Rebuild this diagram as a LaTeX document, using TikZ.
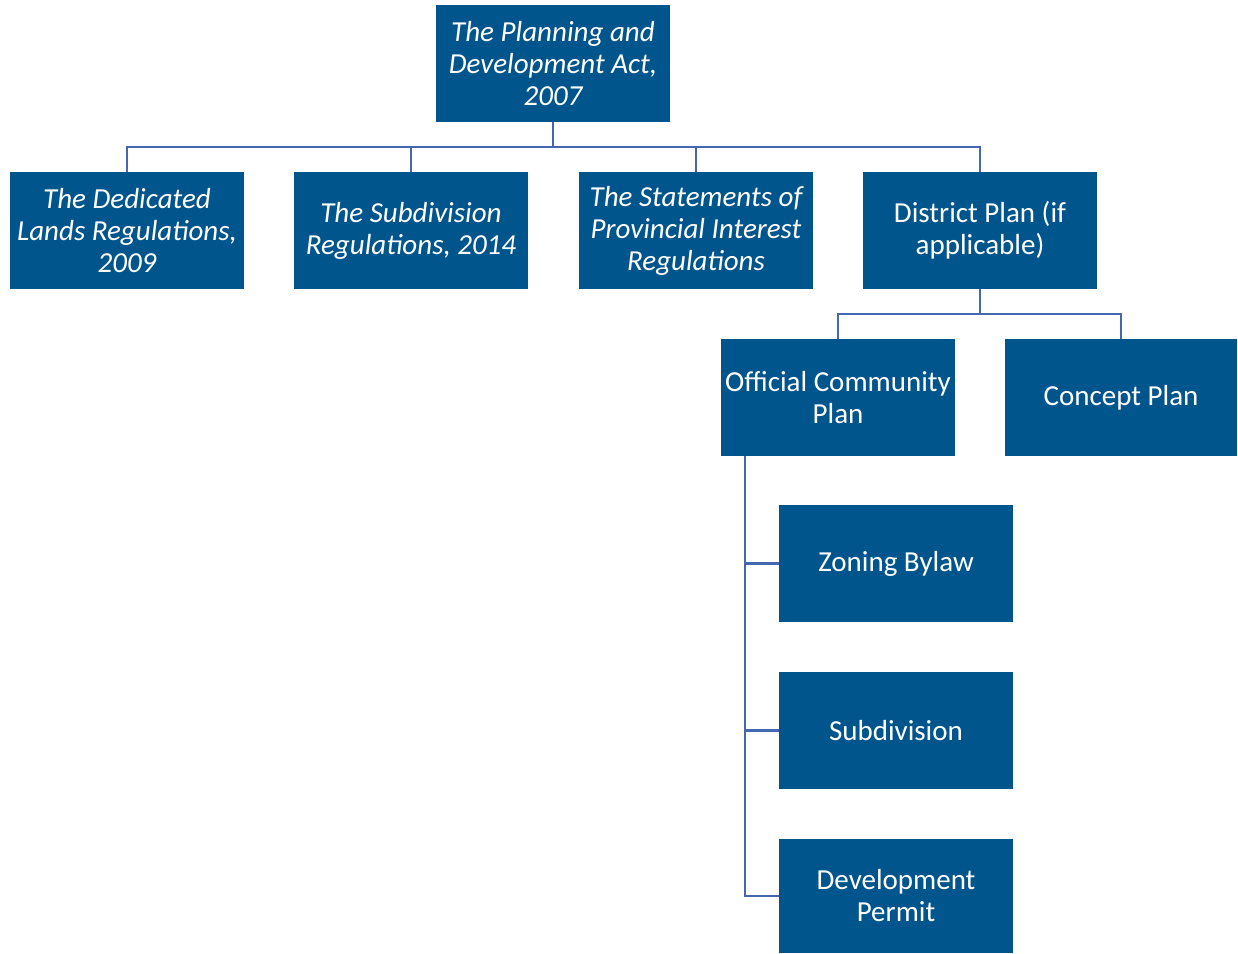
\documentclass[tikz,border=0pt]{standalone}
\usepackage{fontspec}
\setmainfont{Carlito}
\definecolor{boxfill}{HTML}{00558C}
\definecolor{linec}{HTML}{4567B0}
\begin{document}
\begin{tikzpicture}[x=1pt,y=-1pt,
  box/.style={fill=boxfill,text=white,minimum width=234pt,minimum height=117pt,inner sep=0pt,align=center,font=\fontsize{29}{32}\selectfont},
  ibox/.style={box,font=\fontsize{29}{32}\selectfont\itshape},
  conn/.style={draw=linec,line width=2.8pt}]
\useasboundingbox (0,0) rectangle (1238,953);
\node[ibox] (act) at (553,63.5) {The Planning and\\Development Act,\\2007};
\node[ibox] (ded) at (127,230.5) {The Dedicated\\Lands Regulations,\\2009};
\node[ibox] (sub) at (411,230.5) {The Subdivision\\Regulations, 2014};
\node[ibox] (spi) at (696,230.5) {The Statements of\\Provincial Interest\\Regulations};
\node[box] (dp) at (980,230.5) {District Plan (if\\applicable)};
\node[box] (ocp) at (838,397.5) {Official Community\\Plan};
\node[box,minimum width=232pt] (cp) at (1121,397.5) {Concept Plan};
\node[box] (zb) at (896,563.5) {Zoning Bylaw};
\node[box] (sd) at (896,730.5) {Subdivision};
\node[box,minimum height=114pt] (dvp) at (896,896) {Development\\Permit};
\coordinate (j1) at (553,147);
\coordinate (j2) at (980,314);
\coordinate (sp) at (745,456);
\draw[conn] (act.south) -- (j1);
\draw[conn] (ded.north) |- (j1) -| (dp.north);
\draw[conn] (sub.north) -- (sub.north |- j1);
\draw[conn] (spi.north) -- (spi.north |- j1);
\draw[conn] (dp.south) -- (j2);
\draw[conn] (ocp.north) |- (j2) -| (cp.north);
\draw[conn] (sp) |- (dvp.west);
\draw[conn] (sp |- zb.west) -- (zb.west);
\draw[conn] (sp |- sd.west) -- (sd.west);
\end{tikzpicture}
\end{document}
